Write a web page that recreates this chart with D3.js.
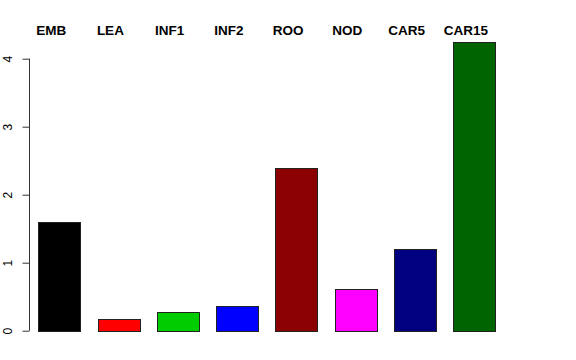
<!doctype html>
<meta charset="utf-8">
<style>
  body { margin: 0; background: #fff; }
  text { font-family: "Liberation Sans", Arial, sans-serif; }
</style>
<body>
<script src="https://cdn.jsdelivr.net/npm/d3@7"></script>
<script>
var categories = ['EMB', 'LEA', 'INF1', 'INF2', 'ROO', 'NOD', 'CAR5', 'CAR15'];
var values = [1.6, 0.17, 0.27, 0.37, 2.4, 0.61, 1.2, 4.24];
var colors = ['#000000', '#ff0000', '#00cd00', '#0000ff', '#8b0000', '#ff00ff', '#000080', '#006400'];
var yTicks = [0, 1, 2, 3, 4];

var W = 576, H = 360;

var svg = d3.select('body').append('svg').attr('width', W).attr('height', H);

var x = d3.scaleBand()
  .domain(categories)
  .range([38.3, 494.7])
  .paddingInner(0.297)
  .paddingOuter(0);

var y = d3.scaleLinear().domain([0, 4]).range([330.7, 58.7]);

// bars
svg.append('g')
  .selectAll('rect')
  .data(categories)
  .enter().append('rect')
    .attr('x', function(d){ return Math.round(x(d)) + 0.5; })
    .attr('y', function(d, i){ return Math.round(y(values[i])) + 0.5; })
    .attr('width', Math.round(x.bandwidth()))
    .attr('height', function(d, i){ return Math.round(y(0)) - Math.round(y(values[i])); })
    .style('fill', function(d, i){ return colors[i]; })
    .style('stroke', '#222')
    .style('stroke-width', 1);

// category labels above the plot (shifted a bit left of bar centres)
svg.append('g')
  .selectAll('text')
  .data(categories)
  .enter().append('text')
    .attr('x', function(d){ return x(d) + x.bandwidth() / 2 - 8; })
    .attr('y', 35)
    .attr('text-anchor', 'middle')
    .style('font-weight', 'bold')
    .style('font-size', '13.5px')
    .text(function(d){ return d; });

// y axis, R style
var yAxis = d3.axisLeft(y).tickValues(yTicks).tickSize(7).tickPadding(4).tickFormat(d3.format('d'));
var ga = svg.append('g').attr('transform', 'translate(29.5,0)').call(yAxis);
ga.select('.domain').attr('d', 'M0,' + y(4) + 'V' + y(0)).style('stroke', '#333');
ga.selectAll('.tick line').style('stroke', '#333');
ga.selectAll('.tick text')
  .attr('x', null).attr('dy', null)
  .attr('transform', 'translate(-17.5,0) rotate(-90)')
  .attr('text-anchor', 'middle')
  .style('font-family', '"Liberation Sans", Arial, sans-serif')
  .style('font-size', '12px')
  .style('fill', '#000');
</script>
</body>
